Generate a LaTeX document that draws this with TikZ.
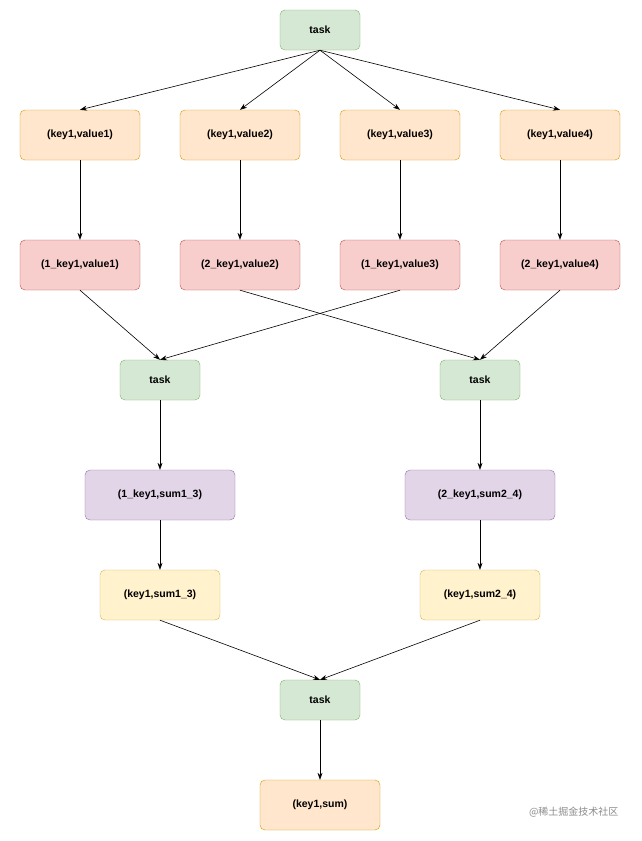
\documentclass[tikz,border=0pt]{standalone}
\usepackage{fontspec}
\setmainfont{Liberation Sans}
\newfontfamily\cjk{Noto Sans CJK SC}
\usetikzlibrary{arrows.meta}
\definecolor{gF}{HTML}{D5E8D4}\definecolor{gS}{HTML}{82B366}
\definecolor{oF}{HTML}{FFE6CC}\definecolor{oS}{HTML}{D79B00}
\definecolor{rF}{HTML}{F8CECC}\definecolor{rS}{HTML}{B85450}
\definecolor{pF}{HTML}{E1D5E7}\definecolor{pS}{HTML}{9673A6}
\definecolor{yF}{HTML}{FFF2CC}\definecolor{yS}{HTML}{D6B656}
\begin{document}
\begin{tikzpicture}[x=1pt,y=-1pt,
 box/.style={draw,rounded corners=5pt,font=\bfseries\fontsize{10.5}{12}\selectfont,inner sep=0pt},
 task/.style={box,fill=gF,draw=gS,minimum width=80pt,minimum height=40pt},
 ora/.style={box,fill=oF,draw=oS,minimum width=120pt,minimum height=50pt},
 red/.style={box,fill=rF,draw=rS,minimum width=120pt,minimum height=50pt},
 pur/.style={box,fill=pF,draw=pS,minimum width=150pt,minimum height=50pt},
 yel/.style={box,fill=yF,draw=yS,minimum width=120pt,minimum height=50pt},
 arr/.style={draw,-{Stealth[length=7pt,width=5pt]},line width=0.6pt}]
\fill[white] (0,0) rectangle (641,841);
\useasboundingbox (0,0) rectangle (641,841);
\node[task] (t0) at (320,30) {task};
\foreach \i/\x in {1/80,2/240,3/400,4/560}{
 \node[ora] (a\i) at (\x,135) {(key1,value\i)};
 \draw[arr] (t0.south) -- (a\i.north);}
\node[red] (b1) at (80,265) {(1\_key1,value1)};
\node[red] (b2) at (240,265) {(2\_key1,value2)};
\node[red] (b3) at (400,265) {(1\_key1,value3)};
\node[red] (b4) at (560,265) {(2\_key1,value4)};
\foreach \i in {1,...,4}{\draw[arr] (a\i) -- (b\i);}
\node[task] (t1) at (160,380) {task};
\node[task] (t2) at (480,380) {task};
\draw[arr] (b1.south) -- (t1.north);
\draw[arr] (b3.south) -- (t1.north);
\draw[arr] (b2.south) -- (t2.north);
\draw[arr] (b4.south) -- (t2.north);
\node[pur] (p1) at (160,495) {(1\_key1,sum1\_3)};
\node[pur] (p2) at (480,495) {(2\_key1,sum2\_4)};
\node[yel] (y1) at (160,595) {(key1,sum1\_3)};
\node[yel] (y2) at (480,595) {(key1,sum2\_4)};
\draw[arr] (t1) -- (p1); \draw[arr] (t2) -- (p2);
\draw[arr] (p1) -- (y1); \draw[arr] (p2) -- (y2);
\node[task] (t3) at (320,700) {task};
\draw[arr] (y1.south) -- (t3.north);
\draw[arr] (y2.south) -- (t3.north);
\node[ora] (f) at (320,805) {(key1,sum)};
\draw[arr] (t3) -- (f);
\node[text=black!45,font=\cjk\fontsize{10}{12}\selectfont,anchor=east] (wm) at (622,812) {@稀土掘金技术社区};
\end{tikzpicture}
\end{document}
